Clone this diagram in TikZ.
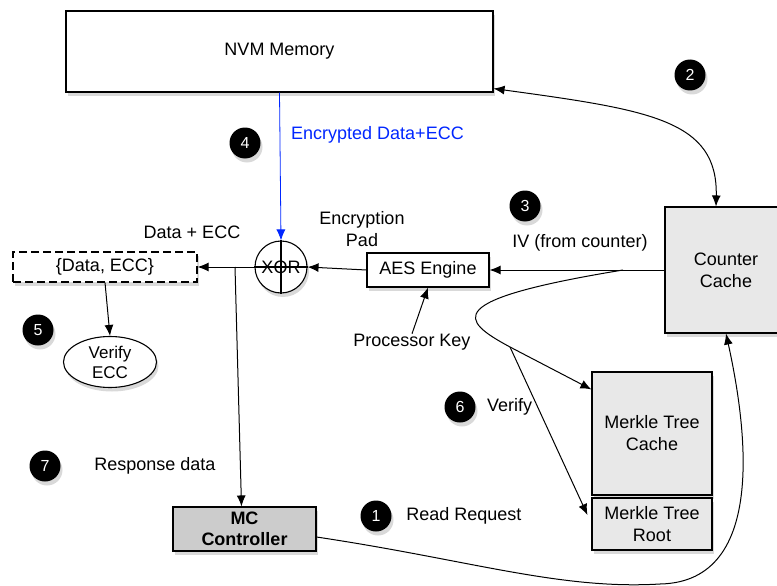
\documentclass[tikz,border=0pt]{standalone}
\usepackage{fontspec}
\setmainfont{Liberation Sans}
\usetikzlibrary{shadows,arrows.meta,shapes.geometric}
\begin{document}
\begin{tikzpicture}[x=1pt,y=-1pt,
  font=\fontsize{18}{22}\selectfont,
  every node/.style={inner sep=0pt},
  box/.style={draw,line width=1.1pt,fill=white,align=center,drop shadow={shadow xshift=2pt,shadow yshift=-4pt,opacity=.3}},
  gbox/.style={box,fill=gray!18},
  badge/.style={circle,fill=black,text=white,minimum size=31pt,font=\fontsize{16}{18}\selectfont,drop shadow={shadow xshift=2pt,shadow yshift=-4pt,opacity=.3}},
  lbl/.style={align=center},
  arr/.style={-{Latex[length=11pt,width=9pt]},line width=1pt},
  darr/.style={{Latex[length=11pt,width=9pt]}-{Latex[length=11pt,width=9pt]},line width=1pt}]
\useasboundingbox (0,0) rectangle (777,586);
% nodes
\node[box,minimum width=427,minimum height=81] (nvm) at (279.5,51.5) {NVM Memory};
\node[box,circle,minimum size=52] (xor) at (281,267) {XOR};
\draw[line width=1.1pt] (xor.north) -- (xor.south) (xor.west) -- (xor.east);
\node[box,minimum width=122,minimum height=34] (aes) at (428,270) {AES Engine};
\node[gbox,minimum width=122,minimum height=126] (cc) at (726,270) {Counter\\Cache};
\node[gbox,minimum width=120,minimum height=123] (mtc) at (652,433.5) {Merkle Tree\\Cache};
\node[gbox,minimum width=120,minimum height=52] (root) at (652,524) {Merkle Tree\\Root};
\node[box,fill=gray!40,minimum width=143,minimum height=44,font=\fontsize{18}{21}\selectfont\bfseries] (mc) at (244.5,529) {MC\\Controller};
\node[box,dash pattern=on 8pt off 4pt,minimum width=184,minimum height=30] (data) at (105,267) {\{Data, ECC\}};
\node[box,ellipse,minimum width=93,minimum height=51,font=\fontsize{17}{20}\selectfont] (vecc) at (110,362) {Verify\\ECC};
% labels
\node[lbl] (encpad) at (362,229) {Encryption\\Pad};
\node[lbl] (dataecc) at (192,232) {Data + ECC};
\node[lbl] (iv) at (580,243) {IV (from counter)};
\node[lbl] (pk) at (412,342) {Processor Key};
\node[lbl,anchor=west] (verify) at (487,407) {Verify};
\node[lbl] (resp) at (155,466) {Response data};
\node[lbl] (rr) at (464,516) {Read Request};
\node[lbl,anchor=west,text=blue!85!cyan] (enc) at (291,135) {Encrypted Data+ECC};
% badges
\node[badge] (b1) at (376,516) {1};
\node[badge] (b2) at (690,75) {2};
\node[badge] (b3) at (525,206) {3};
\node[badge] (b4) at (245,143) {4};
\node[badge] (b5) at (38,330) {5};
\node[badge] (b6) at (460,407) {6};
\node[badge] (b7) at (45,466) {7};
% connectors
\draw[arr,blue!85!cyan,line width=0.8pt] (nvm.south) -- (xor.north);
\draw[arr] (aes.west) -- (xor.east);
\draw[arr] (xor.west) -- (data.east);
\coordinate (br) at (235,267);
\draw[arr] (br) -- ([xshift=-3pt]mc.north);
\draw[arr] (data.south) -- (vecc.north);
\draw[arr] (pk.north) -- (aes.south);
\draw[arr] (cc.west |- aes.east) -- (aes.east);
\coordinate (ivb) at (623,270);
\coordinate (br2) at (510,347);
\draw[arr] (ivb) .. controls (440,300) and (460,320) .. (br2) -- ([yshift=-18pt]mtc.north west);
\draw[arr] (br2) -- ([xshift=-4pt,yshift=9pt]root.west);
\draw[darr] ([yshift=4pt]nvm.south east) .. controls (650,110) and (718,120) .. ([xshift=-10pt]cc.north);
\coordinate (bot) at (660,584);
\draw[line width=1pt] ([yshift=-8pt]mc.east) .. controls (470,560) and (560,590) .. (bot);
\draw[arr] (bot) .. controls (770,582) and (745,420) .. (cc.south);
\end{tikzpicture}
\end{document}
